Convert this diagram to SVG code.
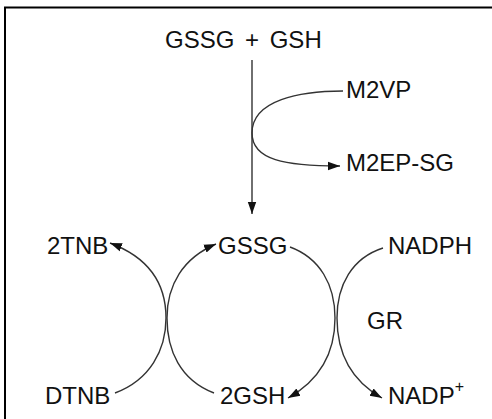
<svg xmlns="http://www.w3.org/2000/svg" width="492" height="419" viewBox="0 0 492 419">
<defs>
<style>
text{font-family:"Liberation Sans",Arial,sans-serif;font-size:24px;fill:#111}
.c{fill:none;stroke:#333;stroke-width:1.4}
</style>
<marker id="ah" markerUnits="userSpaceOnUse" markerWidth="14" markerHeight="10" refX="12" refY="5" orient="auto">
<path d="M0,0.8 L12,5 L0,9.2 Z" fill="#111"/>
</marker>
</defs>
<rect width="492" height="419" fill="#fff"/>
<path d="M5,419 V7.5 H492" fill="none" stroke="#000" stroke-width="2"/>
<g id="n-top"><text x="165" y="48" word-spacing="4">GSSG + GSH</text></g>
<g id="n-m2vp"><text x="346" y="98">M2VP</text></g>
<g id="n-m2ep"><text x="346" y="171">M2EP-SG</text></g>
<g id="n-2tnb"><text x="47" y="254">2TNB</text></g>
<g id="n-gssg"><text x="218" y="254">GSSG</text></g>
<g id="n-nadph"><text x="388" y="254">NADPH</text></g>
<g id="n-gr"><text x="367" y="329">GR</text></g>
<g id="n-dtnb"><text x="45" y="404">DTNB</text></g>
<g id="n-2gsh"><text x="220" y="404">2GSH</text></g>
<g id="n-nadp"><text x="388" y="404">NADP<tspan font-size="16" dy="-12">+</tspan></text></g>
<g id="connectors">
<path class="c" d="M252,60 V214" marker-end="url(#ah)"/>
<path class="c" d="M343,91 C300,91 252,100 252,133 C252,160 285,166 340,166" marker-end="url(#ah)"/>
<path class="c" d="M115,393 C150,380 166,350 166,318 C166,285 150,258 110,243" marker-end="url(#ah)"/>
<path class="c" d="M214,393 C180,380 167,350 167,318 C167,285 183,258 216,244" marker-end="url(#ah)"/>
<path class="c" d="M290,247 C320,258 335,285 335,318 C335,352 320,380 288,398" marker-end="url(#ah)"/>
<path class="c" d="M383,248 C352,258 337,285 337,318 C337,352 350,380 382,398" marker-end="url(#ah)"/>
</g>
</svg>
